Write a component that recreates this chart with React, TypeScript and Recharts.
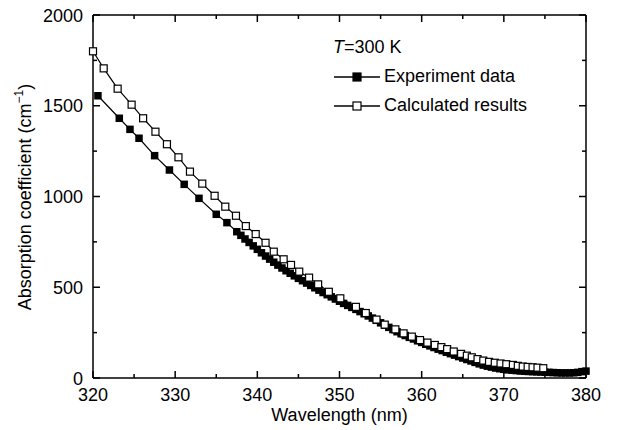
import { LineChart, Line, XAxis, YAxis } from 'recharts'

const FONT = '"Liberation Sans", Arial, Helvetica, sans-serif'
const FS = 18

// wavelength (nm) / absorption coefficient (cm^-1)
const expWavelength = [
  320.6, 323.2, 324.5, 325.6, 327.5, 329.3, 331.1, 332.9, 335.0, 336.3,
  337.5, 338.0, 338.5, 339.0, 339.5, 340.0, 340.5, 341.0, 341.5, 342.0,
  342.5, 343.0, 343.5, 344.0, 344.5, 345.0, 345.5, 346.0, 346.5, 347.0,
  347.5, 348.0, 348.5, 349.0, 349.5, 350.0, 350.5, 351.0, 351.5, 352.0,
  352.5, 353.0, 353.5, 354.0, 354.5, 355.0, 355.5, 356.0, 356.5, 357.0,
  357.5, 358.0, 358.5, 359.0, 359.5, 360.0, 360.5, 361.0, 361.5, 362.0,
  362.5, 363.0, 363.5, 364.0, 364.5, 365.0, 365.5, 366.0, 366.5, 367.0,
  367.5, 368.0, 368.5, 369.0, 369.5, 370.0, 370.5, 371.0, 371.5, 372.0,
  372.5, 373.0, 373.5, 374.0, 374.5, 375.0, 375.5, 376.0, 376.5, 377.0,
  377.5, 378.0, 378.5, 379.0, 379.5, 380.0,
]
const expAbsorption = [
  1555, 1431, 1370, 1321, 1225, 1146, 1067, 990, 902, 856,
  806, 786, 766, 747, 728, 709, 690, 672, 655, 638,
  622, 606, 591, 577, 563, 549, 536, 523, 510, 497,
  484, 471, 459, 447, 435, 423, 411, 400, 389, 378,
  366, 354, 342, 330, 318, 304, 291, 279, 267, 255,
  244, 234, 224, 215, 205, 196, 186, 177, 168, 159,
  151, 142, 134, 126, 118, 110, 102, 94, 86, 78,
  71, 65, 60, 55, 51, 48, 45, 43, 41, 39,
  37, 36, 35, 34, 33, 32, 31, 30, 29, 28,
  28, 28, 29, 31, 35, 38,
]

const calcWavelength = [
  320.0, 321.3, 323.0, 324.7, 326.1, 327.6, 329.0, 330.4, 331.8, 333.3,
  334.8, 336.1, 337.4, 338.6, 339.8, 341.0, 342.0, 343.2, 344.1, 345.1,
  346.3, 347.4, 348.7, 350.1, 352.0, 353.2, 354.5, 355.5, 356.8, 357.8,
  358.8, 359.8, 360.7, 361.6, 362.4, 363.1, 363.9, 364.8, 365.5, 366.1,
  366.8, 367.5, 368.2, 368.9, 369.6, 370.3, 371.1, 371.7, 372.3, 372.9,
  373.5, 374.1, 374.8,
]
const calcAbsorption = [
  1800, 1706, 1594, 1506, 1431, 1357, 1288, 1216, 1137, 1071,
  1004, 944, 894, 837, 793, 745, 696, 654, 623, 586,
  553, 516, 475, 439, 392, 358, 322, 294, 268, 246,
  228, 209, 195, 182, 170, 159, 146, 133, 123, 114,
  104, 96, 89, 84, 80, 76, 72, 67, 63, 61,
  59, 57, 54,
]

const xTicks = [320, 325, 330, 335, 340, 345, 350, 355, 360, 365, 370, 375, 380]
const yTicks = [0, 250, 500, 750, 1000, 1250, 1500, 1750, 2000]

const expData = expWavelength.map((x, i) => ({ x, y: expAbsorption[i] }))
const calcData = calcWavelength.map((x, i) => ({ x, y: calcAbsorption[i] }))

const MAJOR = 7
const MINOR = 4

const BottomTick = ({ x, y, payload }: any) => {
  const major = payload.value % 10 === 0
  return (
    <g>
      <line x1={x} x2={x} y1={y} y2={y - (major ? MAJOR : MINOR)} stroke="#000" strokeWidth={1.5} />
      {major && (
        <text x={x} y={y + 23} textAnchor="middle" fontSize={FS} fontFamily={FONT} fill="#000">
          {payload.value}
        </text>
      )}
    </g>
  )
}

const TopTick = ({ x, y, payload }: any) => {
  const major = payload.value % 10 === 0
  return <line x1={x} x2={x} y1={y} y2={y + (major ? MAJOR : MINOR)} stroke="#000" strokeWidth={1.5} />
}

const LeftTick = ({ x, y, payload }: any) => {
  const major = payload.value % 500 === 0
  return (
    <g>
      <line x1={x} x2={x + (major ? MAJOR : MINOR)} y1={y} y2={y} stroke="#000" strokeWidth={1.5} />
      {major && (
        <text x={x - 10} y={y + 6.5} textAnchor="end" fontSize={FS} fontFamily={FONT} fill="#000">
          {payload.value}
        </text>
      )}
    </g>
  )
}

const RightTick = ({ x, y, payload }: any) => {
  const major = payload.value % 500 === 0
  return <line x1={x} x2={x - (major ? MAJOR : MINOR)} y1={y} y2={y} stroke="#000" strokeWidth={1.5} />
}

const FilledSquare = ({ cx, cy, index }: any) => (
  <rect key={`e-${index}`} x={cx - 3.75} y={cy - 3.75} width={7.5} height={7.5} fill="#000" />
)

const OpenSquare = ({ cx, cy, index }: any) => (
  <rect key={`c-${index}`} x={cx - 3.5} y={cy - 3.5} width={7} height={7} fill="#fff" stroke="#000" strokeWidth={1.2} />
)

const LegendIcon = ({ filled }: { filled: boolean }) => (
  <svg width={48} height={12} style={{ marginRight: 3 }}>
    <line x1={1} x2={47} y1={6} y2={6} stroke="#000" strokeWidth={1.5} />
    <rect
      x={20}
      y={2}
      width={8}
      height={8}
      fill={filled ? '#000' : '#fff'}
      stroke="#000"
      strokeWidth={1.2}
    />
  </svg>
)

const LegendBox = () => (
  <div
    style={{
      position: 'absolute',
      left: 333,
      top: 33,
      fontFamily: FONT,
      fontSize: FS,
      color: '#000',
      lineHeight: '29px',
      whiteSpace: 'nowrap',
    }}
  >
    <div>
      <i>T</i>=300 K
    </div>
    <div style={{ display: 'flex', alignItems: 'center' }}>
      <LegendIcon filled />
      <span>Experiment data</span>
    </div>
    <div style={{ display: 'flex', alignItems: 'center' }}>
      <LegendIcon filled={false} />
      <span>Calculated results</span>
    </div>
  </div>
)

const YLabel = () => (
  <text
    transform="translate(31, 197) rotate(-90)"
    textAnchor="middle"
    fontSize={FS}
    fontFamily={FONT}
    fill="#000"
  >
    Absorption coefficient (cm
    <tspan dy={-8} fontSize={12}>−1</tspan>
    <tspan dy={8}>)</tspan>
  </text>
)

const XLabel = () => (
  <text x={339.5} y={421} textAnchor="middle" fontSize={FS} fontFamily={FONT} fill="#000">
    Wavelength (nm)
  </text>
)

export default function App() {
  return (
    <div style={{ position: 'absolute', left: 0, top: 0, width: 617, height: 430, background: '#fff' }}>
      <LineChart width={617} height={430} margin={{ top: 14, right: 30, bottom: 22, left: 33 }}>
        <XAxis
          xAxisId="bottom"
          type="number"
          dataKey="x"
          domain={[320, 380]}
          ticks={xTicks}
          tickSize={0}
          tickMargin={0}
          tick={BottomTick}
          height={30}
          axisLine={{ stroke: '#000', strokeWidth: 1.5 }}
          tickLine={false}
          interval={0}
          label={{ content: () => <XLabel /> }}
        />
        <XAxis
          xAxisId="top"
          orientation="top"
          type="number"
          dataKey="x"
          domain={[320, 380]}
          ticks={xTicks}
          tickSize={0}
          tickMargin={0}
          tick={TopTick}
          height={1}
          axisLine={{ stroke: '#000', strokeWidth: 1.5 }}
          tickLine={false}
          interval={0}
        />
        <YAxis
          yAxisId="left"
          type="number"
          domain={[0, 2000]}
          ticks={yTicks}
          tickSize={0}
          tickMargin={0}
          tick={LeftTick}
          width={60}
          axisLine={{ stroke: '#000', strokeWidth: 1.5 }}
          tickLine={false}
          interval={0}
          label={{ content: () => <YLabel /> }}
        />
        <YAxis
          yAxisId="right"
          orientation="right"
          type="number"
          domain={[0, 2000]}
          ticks={yTicks}
          tickSize={0}
          tickMargin={0}
          tick={RightTick}
          width={1}
          axisLine={{ stroke: '#000', strokeWidth: 1.5 }}
          tickLine={false}
          interval={0}
        />
        <Line
          xAxisId="bottom"
          yAxisId="left"
          data={expData}
          dataKey="y"
          name="Experiment data"
          stroke="#000"
          strokeWidth={1.2}
          dot={FilledSquare}
          activeDot={false}
          isAnimationActive={false}
        />
        <Line
          xAxisId="top"
          yAxisId="right"
          data={calcData}
          dataKey="y"
          name="Calculated results"
          stroke="#000"
          strokeWidth={1.2}
          dot={OpenSquare}
          activeDot={false}
          isAnimationActive={false}
        />
      </LineChart>
      <LegendBox />
    </div>
  )
}
